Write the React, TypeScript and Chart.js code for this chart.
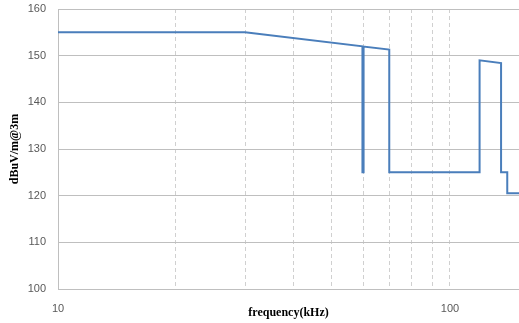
import React, { useEffect, useRef } from "react";
import { Chart, registerables } from "chart.js";

Chart.register(...registerables);

// Frequency (kHz) and limit level (dBuV/m @3m)
const frequencies = [10, 30, 59.8, 59.8, 60.2, 60.2, 70, 70, 119, 119, 135, 135, 140, 140, 150];
const levels = [155, 155, 152.0, 125, 125, 151.95, 151.3, 125, 125, 149, 148.4, 125, 125, 120.5, 120.5];

const xGridValues = [10, 20, 30, 40, 50, 60, 70, 80, 90, 100, 150];
const xLabeled = [10, 100];
const yTicks = [100, 110, 120, 130, 140, 150, 160];

const xTitle = "frequency(kHz)";
const yTitle = "dBuV/m@3m";

export default function App() {
  const ref = useRef<HTMLCanvasElement | null>(null);

  useEffect(() => {
    if (!ref.current) return;
    const chart = new Chart(ref.current, {
      type: "line",
      data: {
        datasets: [
          {
            data: frequencies.map((f, i) => ({ x: f, y: levels[i] })),
            borderColor: "#4a7ebb",
            borderWidth: 2,
            pointRadius: 0,
            tension: 0,
            fill: false,
          },
        ],
      },
      options: {
        responsive: false,
        animation: false,
        layout: { padding: { top: 9, right: 0, left: 0, bottom: 0 } },
        plugins: { legend: { display: false }, tooltip: { enabled: false } },
        scales: {
          x: {
            type: "logarithmic",
            min: 10,
            max: 150,
            afterBuildTicks: (s: any) => {
              s.ticks = xGridValues.map((v) => ({ value: v }));
            },
            afterFit: (s: any) => {
              s.height = 34;
              s.paddingLeft = 0;
              s.paddingRight = 0;
            },
            ticks: {
              autoSkip: false,
              maxRotation: 0,
              padding: 13,
              color: "#595959",
              font: { family: "'Liberation Sans', sans-serif", size: 11 },
              callback: (v: any) => (xLabeled.includes(Number(v)) ? String(v) : ""),
            },
            grid: {
              drawTicks: false,
              color: (ctx: any) =>
                ctx.tick && (ctx.tick.value === 10 || ctx.tick.value === 150)
                  ? "rgba(0,0,0,0)"
                  : "#d0d0d0",
              lineWidth: 1,
            },
            border: { display: true, color: "#bfbfbf", width: 1, dash: [4, 3] },
            title: {
              display: true,
              text: xTitle,
              color: "#000",
              font: { family: "'Liberation Serif', serif", size: 12, weight: "bold" },
              padding: { top: 0, bottom: 3 },
            },
          },
          y: {
            min: 100,
            max: 160,
            afterBuildTicks: (s: any) => {
              s.ticks = yTicks.map((v) => ({ value: v }));
            },
            afterFit: (s: any) => {
              s.width = 58;
              s.paddingTop = 0;
              s.paddingBottom = 0;
            },
            ticks: {
              padding: 12,
              color: "#595959",
              font: { family: "'Liberation Sans', sans-serif", size: 11 },
            },
            grid: { drawTicks: false, color: "#bfbfbf", lineWidth: 1 },
            border: { display: true, color: "#bfbfbf", width: 1 },
            title: {
              display: true,
              text: yTitle,
              color: "#000",
              font: { family: "'Liberation Serif', serif", size: 12, weight: "bold" },
              padding: { top: 8, bottom: 0 },
            },
          },
        },
      },
    });
    return () => chart.destroy();
  }, []);

  return (
    <div style={{ position: "fixed", left: 0, top: 0, width: 519, height: 323, background: "#fff" }}>
      <canvas ref={ref} width={519} height={323} style={{ display: "block" }} />
    </div>
  );
}
